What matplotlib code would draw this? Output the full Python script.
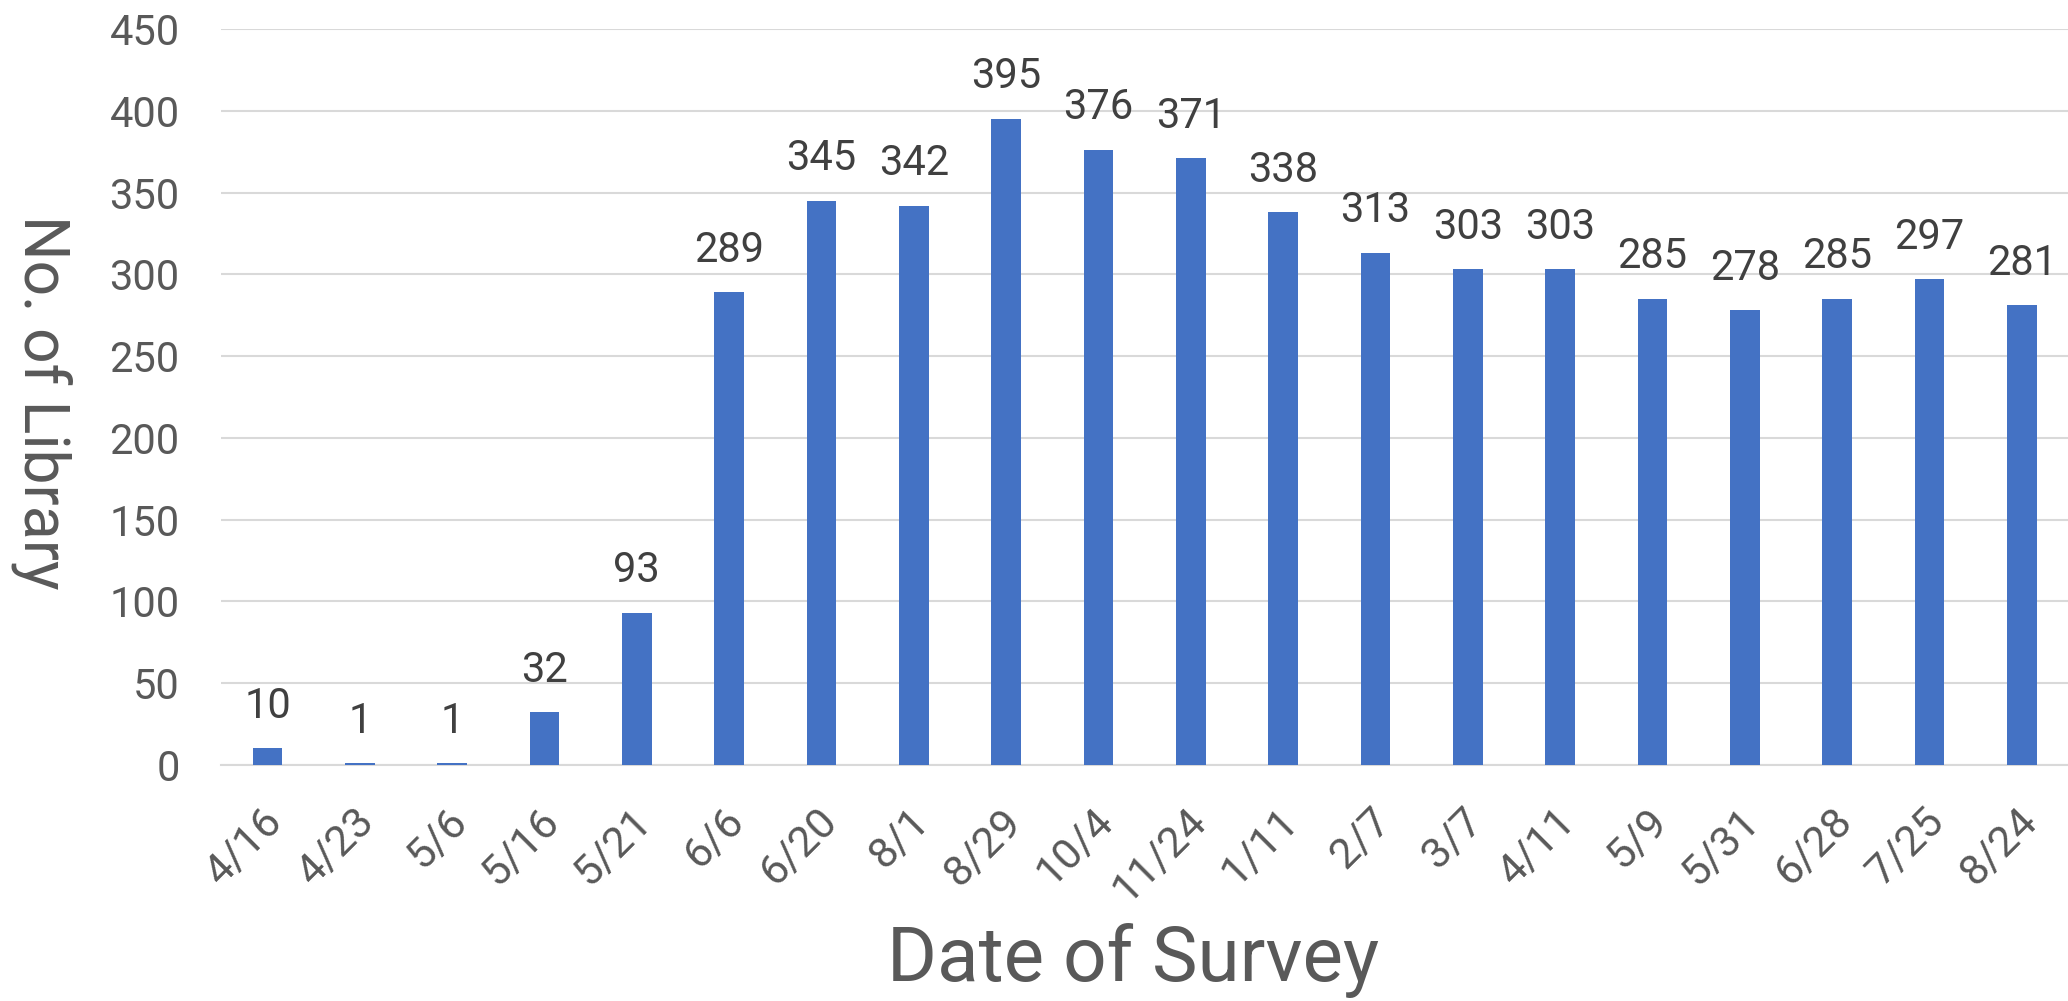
import matplotlib
matplotlib.use('Agg')
import matplotlib.pyplot as plt
from matplotlib.transforms import ScaledTranslation

# Datos del gráfico
dates = ['4/16', '4/23', '5/6', '5/16', '5/21', '6/6', '6/20', '8/1', '8/29', '10/4',
         '11/24', '1/11', '2/7', '3/7', '4/11', '5/9', '5/31', '6/28', '7/25', '8/24']
libraries = [10, 1, 1, 32, 93, 289, 345, 342, 395, 376,
             371, 338, 313, 303, 303, 285, 278, 285, 297, 281]
yticks = [0, 50, 100, 150, 200, 250, 300, 350, 400, 450]

plt.rcParams['font.family'] = ['Roboto', 'DejaVu Sans']

fig = plt.figure(figsize=(20.68, 10.01), dpi=100)
ax = fig.add_axes([0.107, 0.236, 0.893, 0.735])

x = list(range(len(dates)))
ax.bar(x, libraries, width=0.32, color='#4472C4', zorder=3)

# Etiquetas de datos
for xi, v in zip(x, libraries):
    ax.annotate(str(v), (xi, v), xytext=(0, 22), textcoords='offset points',
                ha='center', va='baseline', fontsize=30, color='#404040')

ax.set_xlim(-0.5, len(dates) - 0.5)
ax.set_ylim(0, 450)
ax.set_yticks(yticks)
ax.set_yticklabels([str(t) for t in yticks], fontsize=30, color='#595959')
ax.set_xticks(x)
ax.set_xticklabels(dates, rotation=45, ha='right', va='top',
                   rotation_mode='anchor', fontsize=31, color='#595959')
ax.tick_params(axis='x', length=0, pad=26)
ax.tick_params(axis='y', length=0, pad=30)
# desplazar un poco las etiquetas del eje x
offset = ScaledTranslation(-4 / 72, 0, fig.dpi_scale_trans)
for lbl in ax.get_xticklabels():
    lbl.set_transform(lbl.get_transform() + offset)

ax.grid(axis='y', color='#D9D9D9', linewidth=1.5, zorder=0)
for side in ['top', 'right', 'left']:
    ax.spines[side].set_visible(False)
ax.spines['bottom'].set_color('#D9D9D9')
ax.spines['bottom'].set_linewidth(1.5)

fig.text(0.548, 0.003, 'Date of Survey', fontsize=55, color='#595959',
         ha='center', va='bottom')
fig.text(0.020, 0.598, 'No. of Library', fontsize=45, color='#595959',
         rotation=270, ha='center', va='center')

fig.savefig('out.png', dpi=100)
